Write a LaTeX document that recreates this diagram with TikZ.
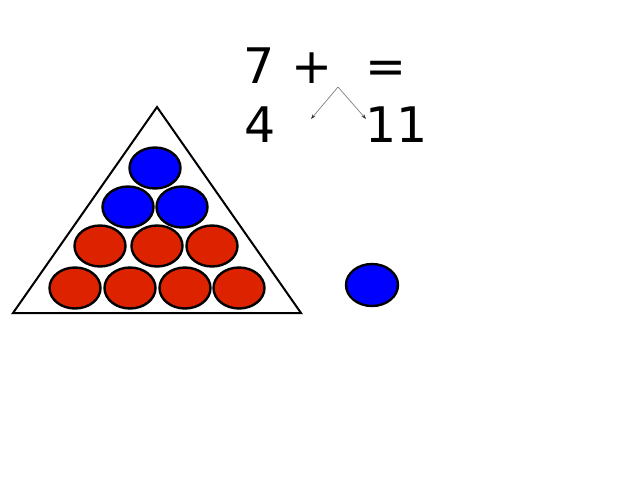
\documentclass[tikz,border=0pt]{standalone}
\usepackage{fontspec}
\setmainfont{DejaVu Sans}
\usetikzlibrary{arrows.meta}
\usetikzlibrary{shapes.geometric}
\definecolor{ballred}{HTML}{DD2200}
\definecolor{ballblue}{HTML}{0000FF}
\tikzset{
  ball/.style={ellipse, draw=black, line width=2.4pt, minimum width=51pt, minimum height=41pt, inner sep=0pt},
  bluebl/.style={ball, fill=ballblue},
  redbl/.style={ball, fill=ballred},
  big/.style={anchor=base west, inner sep=0pt, font=\fontsize{49}{49}\selectfont},
  helper/.style={draw=gray, line width=0.7pt, -{Stealth[length=5pt,width=3.5pt,color=black!80]}}
}
\begin{document}
\begin{tikzpicture}[x=1pt,y=-1pt]
\useasboundingbox (0,0) rectangle (640,480);
\fill[white] (0,0) rectangle (640,480);
% triangle
\draw[line width=2pt, line join=miter] (157,107) -- (13,313) -- (301,313) -- cycle;
% balls
\node[bluebl] (b1) at (155,168) {};
\node[bluebl] (b2) at (128,207) {};
\node[bluebl] (b3) at (182,207) {};
\node[redbl] (r1) at (100,246) {};
\node[redbl] (r2) at (157,246) {};
\node[redbl] (r3) at (212,246) {};
\node[redbl] (r4) at (75,288) {};
\node[redbl] (r5) at (130,288) {};
\node[redbl] (r6) at (185,288) {};
\node[redbl] (r7) at (239,288) {};
\node[bluebl, minimum width=52pt, minimum height=42pt] (single) at (372,285) {};
% text
\node[big] (seven) at (243,83) {7};
\node[big] (plus) at (291,83) {+};
\node[big] (eq) at (365,83) {=};
\node[big] (four) at (244,142) {4};
\node[big] (eleven) at (365,142) {11};
% arrows
\coordinate (apex) at (338,87);
\coordinate (lt) at (311,119);
\coordinate (rt) at (366,119);
\draw[helper] (apex) -- (lt);
\draw[helper] (apex) -- (rt);
\end{tikzpicture}
\end{document}
